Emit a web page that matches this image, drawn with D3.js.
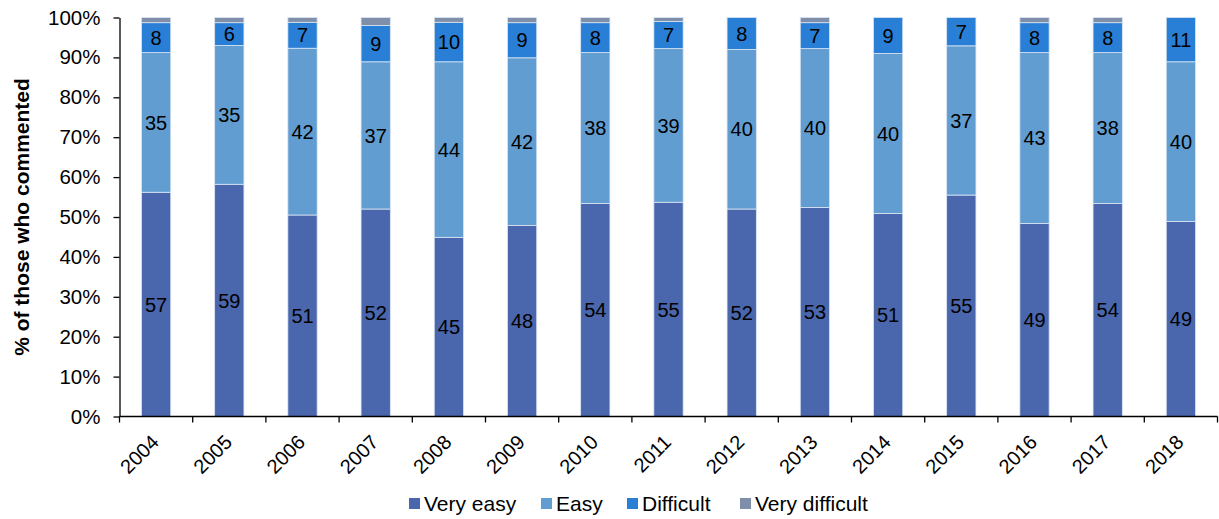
<!DOCTYPE html>
<html><head><meta charset="utf-8">
<script src="https://cdn.jsdelivr.net/npm/d3@7"></script>
<style>body{margin:0;background:#fff;} text{font-family:Arial,"Liberation Sans",sans-serif;}</style>
</head><body><svg id="c" width="1219" height="519"></svg>
<script>
const years = ["2004","2005","2006","2007","2008","2009","2010","2011","2012","2013","2014","2015","2016","2017","2018"];
// bar shares (%)
const veryEasy      = [56.2,58.2,50.5,52.0,44.9,47.9,53.4,53.7,52.0,52.4,50.9,55.5,48.4,53.4,48.9];
const easy          = [35.0,34.8,41.8,36.9,44.0,42.0,37.8,38.5,40.0,39.8,40.1,37.4,42.8,37.8,40.0];
const difficult     = [7.5,5.7,6.5,9.1,9.9,8.8,7.5,6.8,8.0,6.5,9.0,7.1,7.5,7.5,11.1];
const veryDifficult = [1.3,1.3,1.2,2.0,1.2,1.3,1.3,1.0,0,1.3,0,0,1.3,1.3,0];
// data labels as printed
const veryEasyLabels  = [57,59,51,52,45,48,54,55,52,53,51,55,49,54,49];
const easyLabels      = [35,35,42,37,44,42,38,39,40,40,40,37,43,38,40];
const difficultLabels = [8,6,7,9,10,9,8,7,8,7,9,7,8,8,11];
const seriesNames = ["Very easy","Easy","Difficult","Very difficult"];
const colors = ["#4A66AC","#629DD1","#297FD5","#7F8FA9"];
const yTicks = [0,10,20,30,40,50,60,70,80,90,100];

const svg = d3.select("#c");
const x0 = 119.5, x1 = 1217.5, yTop = 17.5, yBot = 416.5;
const x = d3.scaleBand().domain(years).range([x0,x1]).paddingInner(0.6).paddingOuter(0.3);
const xb = d3.scaleBand().domain(years).range([x0,x1]);
const y = d3.scaleLinear().domain([0,100]).range([yBot,yTop]);

const series = [veryEasy, easy, difficult, veryDifficult];
const labels = [veryEasyLabels, easyLabels, difficultLabels, null];
const rows = years.map((yr,i)=>{const o={year:yr}; seriesNames.forEach((s,k)=>o[s]=series[k][i]); return o;});
const stack = d3.stack().keys(seriesNames)(rows);

const g = svg.append("g");
stack.forEach((layer,k)=>{
  g.selectAll(null).data(layer).enter().append("rect")
    .attr("x", d=>x(d.data.year)).attr("width", x.bandwidth())
    .attr("y", d=>y(d[1])).attr("height", d=>Math.max(0,y(d[0])-y(d[1])))
    .attr("fill", colors[k]).attr("stroke","#dbe5f3").attr("stroke-width",0.8);
  if(labels[k]){
    g.selectAll(null).data(layer).enter().append("text")
      .attr("x", d=>x(d.data.year)+x.bandwidth()/2)
      .attr("y", d=>(y(d[0])+y(d[1]))/2)
      .attr("dy","0.36em").attr("text-anchor","middle")
      .attr("font-size",20).attr("fill","#000")
      .text((d,i)=>labels[k][i]);
  }
});

// y axis
const ya = svg.append("g").attr("transform",`translate(${x0},0)`)
  .call(d3.axisLeft(y).tickValues(yTicks).tickFormat(d=>d+"%").tickSize(6).tickSizeOuter(0));
ya.select(".domain").attr("stroke","#000").attr("stroke-width",1.3);
ya.selectAll(".tick line").attr("stroke","#000").attr("stroke-width",1.3);
ya.selectAll(".tick text").attr("font-size",20.5).attr("fill","#000").attr("x",-19).attr("font-family","Arial, 'Liberation Sans', sans-serif");

// x axis
const xa = svg.append("g").attr("transform",`translate(0,${yBot})`);
xa.append("line").attr("x1",x0).attr("x2",x1).attr("stroke","#000").attr("stroke-width",1.3);
xa.selectAll(null).data(years.concat(["_end"])).enter().append("line")
  .attr("x1",(d,i)=>x0+i*xb.bandwidth()).attr("x2",(d,i)=>x0+i*xb.bandwidth())
  .attr("y1",0).attr("y2",6).attr("stroke","#000").attr("stroke-width",1.3);
xa.selectAll(null).data(years).enter().append("text")
  .attr("transform",d=>`translate(${xb(d)+xb.bandwidth()/2-1},${22}) rotate(-45)`)
  .attr("text-anchor","end").attr("dy","0.35em")
  .attr("font-size",20).attr("fill","#000").text(d=>d);

// y title
svg.append("text").attr("transform",`translate(29,${(yTop+yBot)/2}) rotate(-90)`)
  .attr("text-anchor","middle").attr("font-size",21).attr("font-weight","bold").attr("fill","#000")
  .text("% of those who commented");

// legend
const legX = [409,541,627,740];
const lg = svg.append("g").attr("transform","translate(0,504)");
seriesNames.forEach((s,k)=>{
  lg.append("rect").attr("x",legX[k]).attr("y",-6).attr("width",11).attr("height",11).attr("fill",colors[k]);
  lg.append("text").attr("x",legX[k]+15).attr("y",0).attr("dy","0.35em").attr("font-size",21).attr("fill","#000").text(s);
});
</script></body></html>
